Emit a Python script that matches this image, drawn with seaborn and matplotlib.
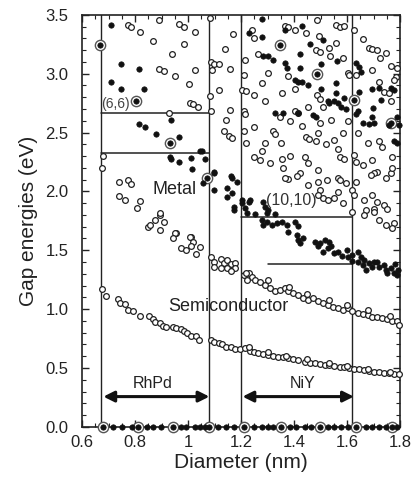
import numpy as np
import pandas as pd
import seaborn as sns
import matplotlib
matplotlib.use("Agg")
import matplotlib.pyplot as plt
from matplotlib.ticker import MultipleLocator

# ---------------- data (diameter nm, gap energy eV) ----------------
# semiconducting tubes: open circles
semi_d = [
    # E11 band
    0.674, 0.690, 0.736, 0.742, 0.761, 0.773, 0.790, 0.817, 0.854, 0.867, 0.873, 0.892, 0.904, 0.917,
    0.941, 0.954, 0.973, 0.985, 0.997, 1.010, 1.029, 1.041, 1.085, 1.097, 1.116, 1.128, 1.141, 1.160,
    1.178, 1.197, 1.216, 1.234, 1.247, 1.265, 1.284, 1.303, 1.321, 1.340, 1.359, 1.377, 1.396, 1.415,
    1.440, 1.458, 1.477, 1.496, 1.515, 1.533, 1.552, 1.571, 1.589, 1.608, 1.627, 1.645, 1.664, 1.683,
    1.702, 1.720, 1.739, 1.758, 1.776, 1.795,
    1.230, 1.300, 1.370, 1.450, 1.530, 1.600, 1.680, 1.760,
    # E22 band
    0.680, 0.674, 0.739, 0.773, 0.786, 0.739, 0.761, 0.817, 0.807, 0.848, 0.873, 0.892, 0.910, 0.892,
    0.954, 1.010, 0.855, 0.895, 0.949, 0.943, 0.971, 0.992, 1.008, 1.017, 1.011, 1.030, 1.045,
    1.085, 1.097, 1.122, 1.135, 1.147, 1.160, 1.178, 1.176, 1.098, 1.123, 1.148, 1.161,
    1.209, 1.228, 1.240, 1.222, 1.253, 1.272, 1.290, 1.309, 1.328, 1.346, 1.365, 1.378, 1.396, 1.415,
    1.434, 1.452, 1.471, 1.490, 1.508, 1.527, 1.546, 1.564, 1.583, 1.602, 1.620, 1.639, 1.658, 1.677,
    1.695, 1.714, 1.733, 1.752, 1.770, 1.789, 1.795,
    1.220, 1.300, 1.380, 1.450, 1.530, 1.600, 1.680, 1.760,
    # upper region, 0.67-1.08
    0.771, 0.784, 0.817, 0.890, 0.868, 0.965, 0.986, 1.024, 0.986, 0.939, 0.889, 0.908, 0.949, 1.024,
    1.004, 1.005, 1.017, 1.038, 0.929,
    # upper region, 1.08-1.2
    1.081, 1.169, 1.138, 1.085, 1.097, 1.116, 1.157, 1.091, 1.116, 1.082, 1.157, 1.085, 1.134, 1.153,
    1.166, 1.142,
    # upper region, 1.2-1.62
    1.240, 1.247, 1.365, 1.378, 1.403, 1.446, 1.487, 1.493, 1.556, 1.558, 1.571, 1.589, 1.483, 1.498,
    1.530, 1.537, 1.583, 1.265, 1.216, 1.209, 1.303, 1.375, 1.278, 1.203, 1.218, 1.247, 1.353, 1.403,
    1.602, 1.487, 1.496, 1.290, 1.209, 1.403, 1.452, 1.508,
    1.216, 1.346, 1.384, 1.415, 1.496, 1.540, 1.602, 1.209, 1.247, 1.321, 1.328, 1.428, 1.490, 1.446,
    1.455, 1.483, 1.521, 1.552, 1.583, 1.218, 1.290, 1.350, 1.278, 1.247, 1.272, 1.309, 1.353, 1.384,
    1.440, 1.452, 1.359, 1.564, 1.571, 1.589, 1.490, 1.421, 1.409, 1.378, 1.365, 1.452, 1.524, 1.564,
    1.571, 1.490, 1.496, 1.508, 1.595, 1.564, 1.490, 1.527, 1.552, 1.583,
    # upper region, 1.62-1.8
    1.627, 1.658, 1.683, 1.695, 1.714, 1.745, 1.725, 1.695, 1.767, 1.786, 1.606, 1.633, 1.720, 1.739,
    1.758, 1.764, 1.639, 1.677, 1.720, 1.733, 1.770, 1.627, 1.633, 1.658, 1.695, 1.714, 1.702, 1.689,
    1.745, 1.764, 1.770, 1.633, 1.620, 1.627, 1.662, 1.695, 1.714, 1.739, 1.670, 1.702, 1.752, 1.620,
    1.664, 1.702, 1.720, 1.745, 1.776, 1.770, 1.789, 1.776,
]
semi_e = [
    # E11 band
    1.17, 1.11, 1.09, 1.05, 1.04, 0.99, 0.98, 0.94, 0.94, 0.92, 0.89, 0.88, 0.86, 0.85,
    0.85, 0.84, 0.83, 0.81, 0.80, 0.77, 0.77, 0.74, 0.74, 0.72, 0.71, 0.70, 0.68, 0.68,
    0.66, 0.66, 0.668, 0.648, 0.640, 0.626, 0.620, 0.612, 0.603, 0.597, 0.592, 0.583, 0.575, 0.569,
    0.555, 0.546, 0.541, 0.535, 0.527, 0.527, 0.518, 0.512, 0.507, 0.499, 0.490, 0.490, 0.484, 0.478,
    0.470, 0.470, 0.461, 0.456, 0.450, 0.450,
    0.675, 0.635, 0.600, 0.575, 0.545, 0.520, 0.495, 0.470,
    # E22 band
    2.30, 2.20, 2.08, 2.10, 2.06, 1.96, 1.93, 1.92, 1.86, 1.70, 1.76, 1.80, 1.74, 1.67,
    1.65, 1.61, 1.716, 1.82, 1.645, 1.60, 1.52, 1.50, 1.61, 1.57, 1.54, 1.47, 1.53,
    1.447, 1.404, 1.43, 1.39, 1.42, 1.38, 1.39, 1.35, 1.36, 1.35, 1.35, 1.32,
    1.291, 1.306, 1.277, 1.249, 1.249, 1.234, 1.206, 1.178, 1.150, 1.164, 1.178, 1.150, 1.136, 1.121,
    1.093, 1.079, 1.093, 1.065, 1.051, 1.036, 1.022, 1.008, 0.994, 1.008, 0.980, 0.971, 0.960, 0.951,
    0.932, 0.932, 0.923, 0.915, 0.903, 0.895, 0.867,
    1.310, 1.245, 1.190, 1.125, 1.075, 1.035, 0.990, 0.945,
    # upper region, 0.67-1.08
    3.41, 3.40, 3.35, 3.46, 3.28, 3.42, 3.40, 3.35, 3.25, 3.17, 3.04, 3.02, 2.98, 3.03,
    2.91, 2.75, 2.74, 2.72, 2.67,
    # upper region, 1.08-1.2
    3.47, 3.34, 3.21, 3.10, 3.08, 3.08, 3.04, 3.03, 2.86, 2.81, 2.69, 2.68, 2.51, 2.47,
    2.45, 2.61,
    # upper region, 1.2-1.62
    3.367, 3.302, 3.406, 3.395, 3.373, 3.344, 3.457, 3.322, 3.259, 3.415, 3.395, 3.401, 3.197, 3.183,
    3.217, 3.152, 3.132, 3.169, 3.112, 2.990, 3.004, 2.982, 2.925, 2.863, 2.854, 2.820, 2.834, 2.869,
    3.004, 2.820, 2.784, 2.764, 2.679, 2.679, 2.721, 2.721,
    2.659, 2.631, 2.599, 2.665, 2.585, 2.608, 2.594, 2.517, 2.551, 2.509, 2.489, 2.557, 2.500, 2.461,
    2.444, 2.424, 2.401, 2.438, 2.495, 2.410, 2.410, 2.410, 2.347, 2.296, 2.268, 2.240, 2.274, 2.302,
    2.296, 2.245, 2.197, 2.359, 2.296, 2.274, 2.184, 2.155, 2.132, 2.104, 2.113, 2.056, 2.098, 2.113,
    2.098, 2.084, 2.013, 1.943, 2.070, 1.999, 1.971, 1.928, 1.943, 1.900,
    # upper region, 1.62-1.8
    3.373, 3.293, 3.217, 3.208, 3.203, 3.174, 3.132, 3.033, 3.061, 2.976, 2.990, 2.990, 2.933, 2.848,
    2.834, 2.764, 2.495, 2.410, 2.424, 2.381, 2.296, 2.311, 2.254, 2.226, 2.268, 2.169, 2.155, 2.141,
    2.113, 2.155, 2.198, 2.084, 2.013, 1.971, 1.928, 1.971, 1.914, 1.886, 1.843, 1.849, 1.849, 1.829,
    1.801, 1.829, 1.758, 1.716, 1.730, 1.688, 3.047, 2.948,
]

# metallic tubes: filled dots
metal_d = [
    # upper region, 0.67-1.08
    0.710, 0.746, 0.814, 0.708, 0.746, 0.834,
    0.814, 0.837, 0.880, 0.936, 0.964,
    0.930, 0.936, 0.967, 1.011, 1.046, 1.014, 1.063, 1.053,
    # band near 1.08-1.2
    1.098, 1.055, 1.098, 1.148, 1.148, 1.167, 1.171, 1.186, 1.161, 1.166, 1.172, 1.097,
    # M11 band 1.2-1.8
    1.203, 1.228, 1.216, 1.234, 1.203, 1.284, 1.290, 1.303, 1.222, 1.253, 1.296, 1.328,
    1.278, 1.284, 1.296, 1.315, 1.334, 1.353, 1.371, 1.378, 1.403, 1.415, 1.409, 1.415, 1.434, 1.421,
    1.477, 1.496, 1.490, 1.515, 1.533, 1.527, 1.540, 1.508, 1.552, 1.564,
    1.602, 1.620, 1.639, 1.652, 1.664, 1.639, 1.658, 1.683, 1.695, 1.714, 1.739, 1.745, 1.764, 1.776,
    1.789, 1.720, 1.750, 1.780, 1.790, 1.700, 1.670, 1.620, 1.600, 1.580,
    # upper region 1.2-1.62
    1.278, 1.278, 1.228, 1.365, 1.428, 1.458, 1.508, 1.421, 1.561, 1.502, 1.421, 1.365, 1.371, 1.321,
    1.284, 1.303, 1.403, 1.415, 1.430, 1.452, 1.502, 1.558, 1.527, 1.533, 1.558, 1.564, 1.595, 1.328,
    1.359, 1.415, 1.471, 1.483, 1.552, 1.577, 1.589,
    # upper region 1.62-1.8
    1.633, 1.645, 1.652, 1.645, 1.695, 1.776, 1.726, 1.699, 1.639, 1.720, 1.764,
    1.633, 1.658, 1.683, 1.702, 1.695, 1.776, 1.789, 1.758, 1.795, 1.789,
    # zero-gap row
    0.718, 0.750, 0.787, 0.843, 0.868, 0.899, 0.974, 0.992, 1.024, 1.046, 1.063, 1.111, 1.142, 1.173,
    1.247, 1.278, 1.303, 1.321, 1.384, 1.408, 1.440, 1.465, 1.527, 1.552, 1.577, 1.602, 1.670, 1.695,
    1.720, 1.745, 1.789,
]
metal_e = [
    3.41, 3.08, 3.04, 2.93, 2.87, 2.87,
    2.574, 2.546, 2.489, 2.608, 2.466,
    2.296, 2.274, 2.254, 2.283, 2.347, 2.189, 2.274, 2.34,
    2.169, 2.07, 2.013, 2.028, 1.956, 2.113, 1.871, 2.084, 2.13, 1.99, 1.84, 2.16,
    1.928, 1.914, 1.858, 1.928, 1.900, 1.914, 1.871, 1.843, 1.815, 1.809, 1.82, 1.81,
    1.758, 1.716, 1.744, 1.716, 1.730, 1.744, 1.716, 1.659, 1.744, 1.702, 1.631, 1.589, 1.603, 1.561,
    1.574, 1.561, 1.532, 1.589, 1.574, 1.518, 1.532, 1.489, 1.475, 1.489,
    1.447, 1.461, 1.489, 1.447, 1.419, 1.404, 1.376, 1.391, 1.362, 1.404, 1.376, 1.334, 1.348, 1.306,
    1.291, 1.360, 1.310, 1.380, 1.330, 1.400, 1.330, 1.410, 1.500, 1.450,
    3.463, 3.310, 3.344, 3.367, 3.406, 3.251, 3.288, 3.169, 3.109, 3.084, 3.047, 3.090, 3.047, 3.118,
    3.154, 3.146, 2.948, 2.933, 2.928, 2.905, 2.869, 2.925, 2.764, 2.750, 2.834, 2.750, 2.699, 2.665,
    2.665, 2.665, 2.650, 2.636, 2.764, 2.721, 2.792,
    3.090, 3.056, 3.018, 2.848, 2.869, 2.863, 2.778, 2.707, 2.679, 2.877, 2.877,
    2.659, 2.580, 2.574, 2.580, 2.636, 2.424, 2.410, 2.565, 2.565, 2.636,
    0, 0, 0, 0, 0, 0, 0, 0, 0, 0, 0, 0, 0, 0,
    0, 0, 0, 0, 0, 0, 0, 0, 0, 0, 0, 0, 0, 0,
    0, 0, 0,
]

# armchair tubes: circled dots
arm_d = [0.668, 0.803, 0.930, 1.071, 1.346, 1.486, 1.627, 1.764,
         0.677, 0.812, 0.943, 1.080, 1.209, 1.352, 1.496, 1.633, 1.770]
arm_e = [3.24, 2.77, 2.41, 2.113, 3.245, 2.996, 2.778, 2.580,
         0, 0, 0, 0, 0, 0, 0, 0, 0]

# reference lines
vlines_x = [0.67, 1.08, 1.20, 1.62]
hlines = [(2.67, 0.67, 1.08), (2.325, 0.67, 1.08), (1.785, 1.20, 1.62), (1.385, 1.30, 1.62)]

semi = pd.DataFrame({"d": semi_d, "E": semi_e})
metal = pd.DataFrame({"d": metal_d, "E": metal_e})
arm = pd.DataFrame({"d": arm_d, "E": arm_e})

# ---------------- plot ----------------
sns.set_theme(style="ticks")
plt.rcParams["font.family"] = ["Liberation Sans", "DejaVu Sans"]

fig = plt.figure(figsize=(4.13, 4.78), dpi=100)
ax = fig.add_axes([0.199, 0.107, 0.770, 0.862])

for x in vlines_x:
    ax.axvline(x, color="#222222", lw=1.0, zorder=1)
for y, x0, x1 in hlines:
    ax.plot([x0, x1], [y, y], color="#222222", lw=1.1, zorder=1)

sns.scatterplot(data=arm, x="d", y="E", ax=ax, marker="o", s=55, clip_on=False,
                facecolor="white", edgecolor="#555555", linewidth=1.0, zorder=4, legend=False)
sns.scatterplot(data=semi, x="d", y="E", ax=ax, marker="o", s=17, clip_on=False,
                facecolor="white", edgecolor="#222222", linewidth=0.9, zorder=3, legend=False)
sns.scatterplot(data=metal, x="d", y="E", ax=ax, marker="o", s=15, clip_on=False,
                color="#111111", edgecolor="#111111", linewidth=0.5, zorder=4, legend=False)
sns.scatterplot(data=arm, x="d", y="E", ax=ax, marker="o", s=15, clip_on=False,
                color="#111111", edgecolor="#111111", linewidth=0.5, zorder=5, legend=False)

# arrows
arrow_kw = dict(arrowstyle="<|-|>", color="#111111", lw=2.2, mutation_scale=16, shrinkA=0, shrinkB=0)
ax.annotate("", xy=(0.68, 0.257), xytext=(1.08, 0.257), arrowprops=arrow_kw)
ax.annotate("", xy=(1.205, 0.257), xytext=(1.625, 0.257), arrowprops=arrow_kw)

# texts
ax.text(0.867, 0.37, "RhPd", ha="center", va="center", fontsize=11.5, color="#222222")
ax.text(1.43, 0.37, "NiY", ha="center", va="center", fontsize=11.5, color="#222222")
ax.text(0.95, 2.02, "Metal", ha="center", va="center", fontsize=13, color="#222222", zorder=6)
ax.text(1.153, 1.02, "Semiconductor", ha="center", va="center", fontsize=13, color="#222222", zorder=6)
ax.text(0.727, 2.74, "(6,6)", ha="center", va="center", fontsize=10, color="#444444", zorder=6)
ax.text(1.389, 1.92, "(10,10)", ha="center", va="center", fontsize=11.5, color="#333333", zorder=6)

ax.set_xlim(0.6, 1.8)
ax.set_ylim(0.0, 3.5)
ax.xaxis.set_minor_locator(MultipleLocator(0.05))
ax.yaxis.set_minor_locator(MultipleLocator(0.1))
ax.set_xticks([0.6, 0.8, 1.0, 1.2, 1.4, 1.6, 1.8])
ax.set_xticklabels(["0.6", "0.8", "1", "1.2", "1.4", "1.6", "1.8"])
ax.set_yticks([0, 0.5, 1.0, 1.5, 2.0, 2.5, 3.0, 3.5])
ax.set_yticklabels(["0.0", "0.5", "1.0", "1.5", "2.0", "2.5", "3.0", "3.5"])
ax.tick_params(which="both", direction="in", top=True, right=True, colors="#222222")
ax.tick_params(which="major", length=5, width=1.0, labelsize=12, pad=6)
ax.tick_params(which="minor", length=3, width=0.8)
ax.tick_params(axis="y", which="major", pad=10)
for sp in ax.spines.values():
    sp.set_color("#222222")
    sp.set_linewidth(1.2)

ax.set_xlabel("Diameter (nm)", fontsize=15, labelpad=2, color="#222222")
ax.set_ylabel("Gap energies (eV)", fontsize=15, labelpad=5, color="#222222")

fig.savefig("out.png", dpi=100, facecolor="white")
